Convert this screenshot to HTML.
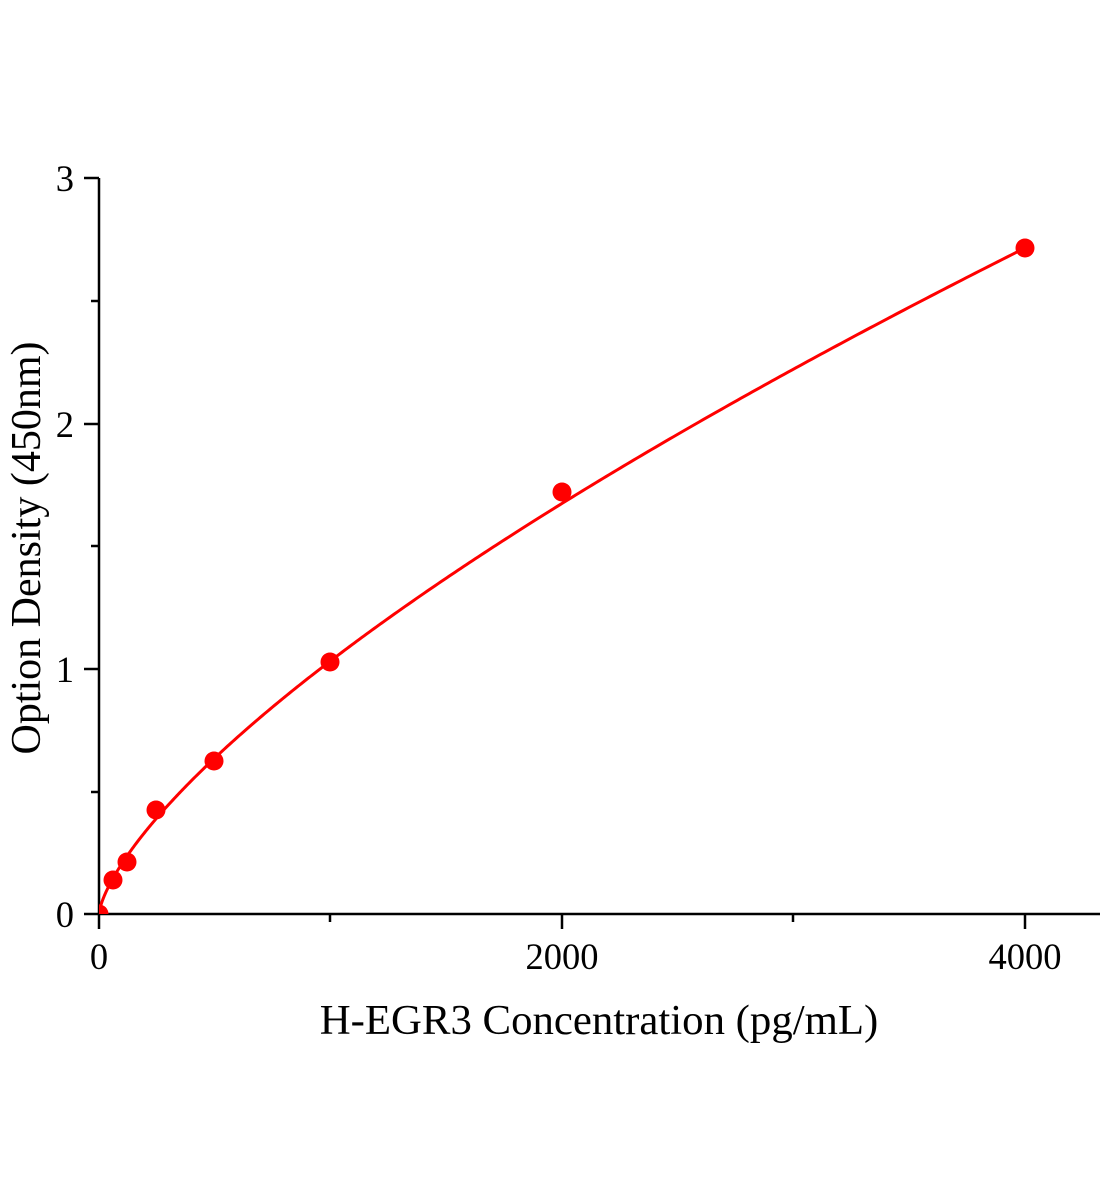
<!DOCTYPE html>
<html><head><style>
html,body{margin:0;padding:0;background:#fff;}
svg{display:block;}
text{font-family:"Liberation Serif",serif;fill:#000;}
</style></head><body>
<svg id="s" width="1104" height="1200" xmlns="http://www.w3.org/2000/svg">
<defs><clipPath id="c"><rect x="99" y="100" width="1005" height="814"/></clipPath></defs>
<g stroke="#000" stroke-width="2.5" fill="none">
<line x1="99" y1="178" x2="99" y2="915"/>
<line x1="98" y1="914" x2="1100" y2="914"/>
<line x1="84" y1="178" x2="99" y2="178"/>
<line x1="84" y1="424" x2="99" y2="424"/>
<line x1="84" y1="669" x2="99" y2="669"/>
<line x1="84" y1="914" x2="99" y2="914"/>
<line x1="91" y1="301" x2="99" y2="301"/>
<line x1="91" y1="546" x2="99" y2="546"/>
<line x1="91" y1="792" x2="99" y2="792"/>
<line x1="99" y1="914" x2="99" y2="929"/>
<line x1="562" y1="914" x2="562" y2="929"/>
<line x1="1025" y1="914" x2="1025" y2="929"/>
<line x1="330" y1="914" x2="330" y2="922"/>
<line x1="793" y1="914" x2="793" y2="922"/>
</g>
<g font-size="36.5" text-anchor="end">
<text x="74" y="191">3</text><text x="74" y="437">2</text><text x="74" y="682">1</text><text x="74" y="927">0</text>
</g>
<g font-size="36.5" text-anchor="middle">
<text x="99" y="969">0</text><text x="562" y="969">2000</text><text x="1025" y="969">4000</text>
</g>
<text x="599" y="1034" font-size="42.8" text-anchor="middle">H-EGR3 Concentration (pg/mL)</text>
<text transform="translate(40,548) rotate(-90)" font-size="42" text-anchor="middle">Option Density (450nm)</text>
<g clip-path="url(#c)">
<path id="curve" d="M99,914 L1025,248" stroke="#f00" stroke-width="3" fill="none"/>
<g fill="#f00">
<circle cx="99" cy="914" r="9.5"/><circle cx="113" cy="880" r="9.5"/><circle cx="127" cy="862" r="9.5"/>
<circle cx="156" cy="810" r="9.5"/><circle cx="214" cy="761" r="9.5"/><circle cx="330" cy="662" r="9.5"/>
<circle cx="562" cy="492" r="9.5"/><circle cx="1025" cy="248" r="9.5"/>
</g>
</g>
</svg>
<script>
var d="";
for(var i=0;i<=400;i++){
var x=4000*Math.pow(i/400,2);
var y=0.00831*Math.pow(x,0.698);
var px=99+x*0.23158, py=914-y*245.33;
d+=(i?" L":"M")+px.toFixed(2)+","+py.toFixed(2);
}
document.getElementById("curve").setAttribute("d",d);
</script>
</body></html>
